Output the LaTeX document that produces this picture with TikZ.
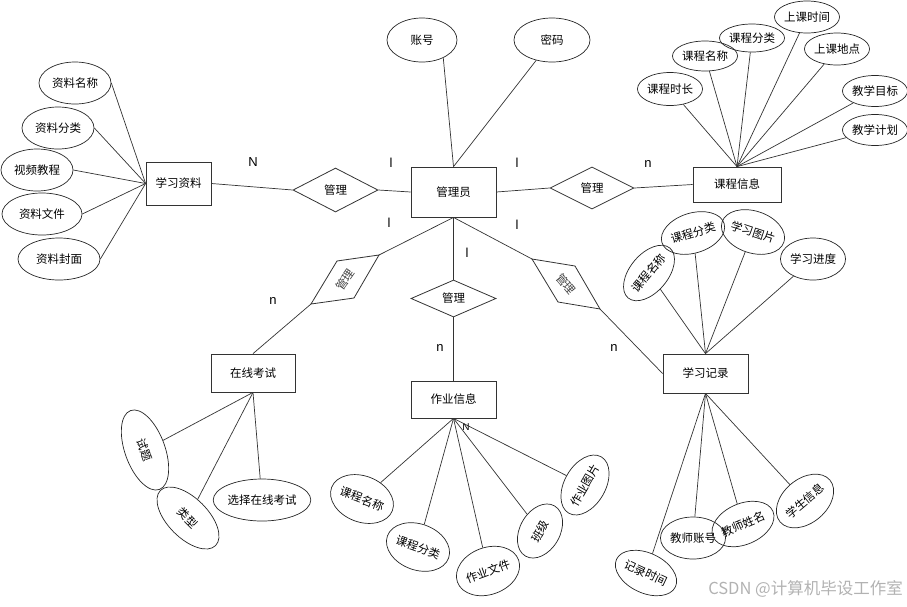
\documentclass[tikz,border=0pt]{standalone}
\usepackage{fontspec}
\setmainfont{Liberation Sans}
\newfontfamily\cjk{Noto Sans CJK SC}
\usetikzlibrary{shapes.geometric}
\begin{document}
\begin{tikzpicture}[x=1pt,y=-1pt,
  ent/.style={draw=black!80, line width=0.8pt, inner sep=0pt, font=\fontsize{11.5}{13}\cjk},
  rel/.style={diamond, draw=black!80, line width=0.8pt, inner sep=0pt, font=\fontsize{11.5}{13}\cjk},
  attr/.style={ellipse, draw=black!85, line width=0.7pt, inner sep=0pt, font=\fontsize{11.5}{13}\cjk},
  con/.style={draw=black!80, line width=0.7pt},
  lab/.style={inner sep=0pt, font=\fontsize{13}{15}\selectfont},
  rtxt/.style={inner sep=0pt, text=black!75, font=\fontsize{11.5}{13}\cjk}]
\useasboundingbox (0,0) rectangle (907,606);

% entities
\node[ent, minimum width=85, minimum height=50] (admin) at (453.5,192) {管理员};
\node[ent, minimum width=65, minimum height=43] (zl) at (178.5,183.5) {学习资料};
\node[ent, minimum width=88, minimum height=35] (kc) at (737,184.5) {课程信息};
\node[ent, minimum width=84, minimum height=38] (ks) at (253,373) {在线考试};
\node[ent, minimum width=85, minimum height=37] (zy) at (453.5,399.5) {作业信息};
\node[ent, minimum width=85, minimum height=39] (jl) at (705.5,373.5) {学习记录};

% relations
\node[rel, minimum width=85, minimum height=44] (r1) at (335.5,190) {管理};
\node[rel, minimum width=84, minimum height=42] (r2) at (592,188) {管理};
\node[rel, minimum width=85, minimum height=37] (r3) at (453.5,298.5) {管理};
\coordinate (r4a) at (379,255); \coordinate (r4b) at (337,261);
\coordinate (r4c) at (311,304); \coordinate (r4d) at (354,298);
\draw[draw=black!80, line width=0.8pt] (r4a)--(r4b)--(r4c)--(r4d)--cycle;
\node[rtxt, rotate=55] (r4) at (345,279.5) {管理};
\coordinate (r5a) at (532,259); \coordinate (r5b) at (575,266);
\coordinate (r5c) at (600,309); \coordinate (r5d) at (558,302);
\draw[draw=black!80, line width=0.8pt] (r5a)--(r5b)--(r5c)--(r5d)--cycle;
\node[rtxt, rotate=-50] (r5) at (566,284) {管理};

% admin attributes
\node[attr, minimum width=70, minimum height=44] (b1) at (422,40) {账号};
\node[attr, minimum width=76, minimum height=44] (b2) at (552,40) {密码};
\draw[con] (b1.-40) -- (admin.north);
\draw[con] (b2) -- (admin.north);

% 学习资料 attributes
\node[attr, minimum width=72, minimum height=42] (a1) at (75,83) {资料名称};
\node[attr, minimum width=72, minimum height=42] (a2) at (58,128) {资料分类};
\node[attr, minimum width=72, minimum height=42] (a3) at (37,170) {视频教程};
\node[attr, minimum width=80, minimum height=42] (a4) at (42,214) {资料文件};
\node[attr, minimum width=82, minimum height=42] (a5) at (59,259) {资料封面};
\foreach \a in {a1,a2,a3,a4,a5} \draw[con] (\a.east) -- (zl.west);

% 课程信息 attributes
\node[attr, minimum width=55, minimum height=33] (c1) at (670,89) {课程时长};
\node[attr, minimum width=56, minimum height=30] (c2) at (705,56) {课程名称};
\node[attr, minimum width=55, minimum height=28] (c3) at (752,38) {课程分类};
\node[attr, minimum width=56, minimum height=32] (c4) at (807,17) {上课时间};
\node[attr, minimum width=62, minimum height=32] (c5) at (837,49) {上课地点};
\node[attr, minimum width=60, minimum height=31] (c6) at (875,91) {教学目标};
\node[attr, minimum width=60, minimum height=31] (c7) at (875,130) {教学计划};
\foreach \a in {c1,c2,c3,c4,c5,c6,c7} \draw[con] (\a) -- (kc.north);

% relation connectors
\draw[con] (zl.east) -- (r1.west);
\draw[con] (r1.east) -- (admin.west);
\draw[con] (admin.east) -- (r2.west);
\draw[con] (r2.east) -- (kc.west);
\draw[con] (admin.south) -- (r3.north);
\draw[con] (r3.south) -- (zy.north);
\draw[con] (admin.south) -- (r4a);
\draw[con] (r4c) -- (ks.north);
\draw[con] (admin.south) -- (r5a);
\draw[con] (r5c) -- (jl.west);

% cardinality labels
\node[lab] (n1) at (253,162) {N};
\node[lab] (n2) at (391,163) {l};
\node[lab] (n3) at (517,163) {l};
\node[lab] (n4) at (648,164) {n};
\node[lab] (n5) at (389,223) {l};
\node[lab] (n6) at (517,225) {l};
\node[lab] (n7) at (467,253) {l};
\node[lab] (n8) at (273,301) {n};
\node[lab] (n9) at (440,348) {n};
\node[lab] (n10) at (614,348) {n};
\node[lab, font=\fontsize{10}{12}\selectfont] (n11) at (466,427) {N};

% 在线考试 attributes
\node[attr, minimum width=84, minimum height=40, rotate=-70] (e1) at (145,450) {试题};
\node[attr, minimum width=78, minimum height=40, rotate=-45] (e2) at (188,518) {类型};
\node[attr, minimum width=72, minimum height=42] (e3) at (262,500) {选择在线考试};
\foreach \a in {e1,e2,e3} \draw[con] (\a) -- (ks.south);

% 作业信息 attributes
\node[attr, minimum width=65, minimum height=46, rotate=-21] (f1) at (362,499) {课程名称};
\node[attr, minimum width=62, minimum height=46, rotate=-20] (f2) at (418,547) {课程分类};
\node[attr, minimum width=57, minimum height=47, rotate=20] (f3) at (488,571) {作业文件};
\node[attr, minimum width=58, minimum height=40, rotate=60] (f4) at (540,531) {班级};
\node[attr, minimum width=56, minimum height=41, rotate=60] (f5) at (585,485) {作业图片};
\foreach \a in {f1,f2,f3,f4,f5} \draw[con] (\a) -- (zy.south);

% 学习记录 attributes (top)
\node[attr, minimum width=58, minimum height=38, rotate=50] (g1) at (649,273) {课程名称};
\node[attr, minimum width=52, minimum height=40, rotate=17] (g2) at (693,233) {课程分类};
\node[attr, minimum width=51, minimum height=42, rotate=-18] (g3) at (753,232) {学习图片};
\node[attr, minimum width=52, minimum height=42] (g4) at (813,259) {学习进度};
\foreach \a in {g1,g2,g3,g4} \draw[con] (\a) -- (jl.north);

% 学习记录 attributes (bottom)
\node[attr, minimum width=60, minimum height=40, rotate=-25] (h1) at (646,573) {记录时间};
\node[attr, minimum width=50, minimum height=42] (h2) at (693,538) {教师账号};
\node[attr, minimum width=52, minimum height=41, rotate=23] (h3) at (743,524) {教师姓名};
\node[attr, minimum width=56, minimum height=44, rotate=40] (h4) at (805,501) {学生信息};
\foreach \a in {h1,h2,h3,h4} \draw[con] (\a) -- (jl.south);

% watermark
\node[anchor=east, inner sep=0pt, text=black!30, font=\fontsize{16.5}{18}\cjk] (wm) at (903,589) {CSDN @计算机毕设工作室};
\end{tikzpicture}
\end{document}
